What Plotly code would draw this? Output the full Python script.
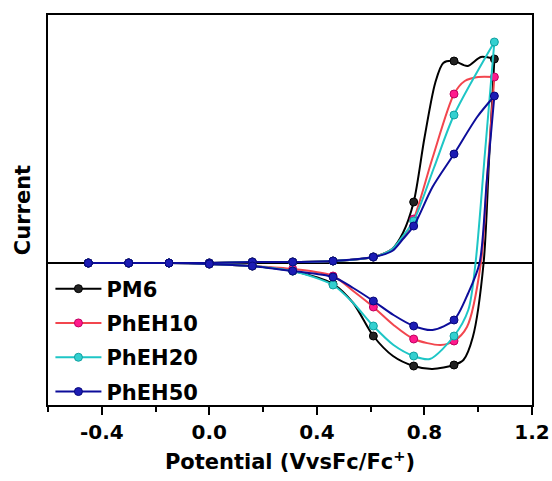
import plotly.graph_objects as go

# ---------------- data (arbitrary current units, potential in V vs Fc/Fc+) ----------------
SERIES = ["PM6", "PhEH10", "PhEH20", "PhEH50"]

# marker potentials
X_FWD_MARK = [-0.45, -0.30, -0.15, 0.00, 0.16, 0.31, 0.46, 0.61, 0.76, 0.91, 1.06]
X_REV_MARK = [0.91, 0.76, 0.61, 0.46, 0.31, 0.16, 0.00, -0.15, -0.30, -0.45]

# currents at the marker potentials (forward / reverse scan)
PM6_FWD = [0, 0, 0, 0, 1, 1, 2, 6, 61, 202, 204]
PM6_REV = [-102, -103, -73, -21, -8, -3, -1, 0, 0, 0]
PHEH10_FWD = [0, 0, 0, 0, 1, 1, 2, 6, 44, 169, 186]
PHEH10_REV = [-78, -76, -44, -13, -6, -3, -1, 0, 0, 0]
PHEH20_FWD = [0, 0, 0, 0, 1, 1, 2, 6, 42, 148, 221]
PHEH20_REV = [-73, -93, -63, -22, -8, -3, -1, 0, 0, 0]
PHEH50_FWD = [0, 0, 0, 0, 1, 1, 2, 6, 37, 109, 167]
PHEH50_REV = [-57, -63, -38, -14, -8, -3, -1, 0, 0, 0]

# additional recorded points between markers (potential, current)
PM6_FWD_X_EXTRA = [0.68, 0.72, 0.80, 0.84, 0.87, 0.96, 1.01]
PM6_FWD_Y_EXTRA = [14, 30, 125, 180, 200, 197, 206]
PM6_REV_X_EXTRA = [1.04, 1.02, 0.98, 0.945, 0.83, 0.683, 0.535]
PM6_REV_Y_EXTRA = [102, 0, -74, -97, -106, -93, -40]

PHEH10_FWD_X_EXTRA = [0.68, 0.72, 0.83, 0.95, 1.00]
PHEH10_FWD_Y_EXTRA = [14, 25, 105, 182, 186]
PHEH10_REV_X_EXTRA = [1.035, 1.01, 0.958, 0.86, 0.685, 0.535]
PHEH10_REV_Y_EXTRA = [93, 0, -64, -82, -62, -28]

PHEH20_FWD_X_EXTRA = [0.68, 0.72, 0.835]
PHEH20_FWD_Y_EXTRA = [14, 27, 95]
PHEH20_REV_X_EXTRA = [1.025, 0.99, 0.963, 0.82, 0.685, 0.535]
PHEH20_REV_Y_EXTRA = [110, 0, -47, -96, -82, -40]

PHEH50_FWD_X_EXTRA = [0.68, 0.72, 0.83, 0.996]
PHEH50_FWD_Y_EXTRA = [12, 24, 76, 146]
PHEH50_REV_X_EXTRA = [1.032, 1.005, 0.963, 0.83, 0.685, 0.535]
PHEH50_REV_Y_EXTRA = [83, 0, -30, -67, -52, -25]

X_TICK_VALS = [-0.4, 0.0, 0.4, 0.8, 1.2]
X_TICK_TEXT = ["-0.4", "0.0", "0.4", "0.8", "1.2"]
X_MINOR_VALS = [-0.6, -0.2, 0.2, 0.6, 1.0]

LINE_COLORS = ["#000000", "#f2464e", "#1ec6c6", "#0d0d9a"]
MARK_COLORS = ["#222222", "#ff1a8c", "#33d0d0", "#1c1cb4"]
MARK_EDGES = ["#000000", "#c00060", "#10a0a0", "#08087a"]

FWD = [PM6_FWD, PHEH10_FWD, PHEH20_FWD, PHEH50_FWD]
REV = [PM6_REV, PHEH10_REV, PHEH20_REV, PHEH50_REV]
FWD_XE = [PM6_FWD_X_EXTRA, PHEH10_FWD_X_EXTRA, PHEH20_FWD_X_EXTRA, PHEH50_FWD_X_EXTRA]
FWD_YE = [PM6_FWD_Y_EXTRA, PHEH10_FWD_Y_EXTRA, PHEH20_FWD_Y_EXTRA, PHEH50_FWD_Y_EXTRA]
REV_XE = [PM6_REV_X_EXTRA, PHEH10_REV_X_EXTRA, PHEH20_REV_X_EXTRA, PHEH50_REV_X_EXTRA]
REV_YE = [PM6_REV_Y_EXTRA, PHEH10_REV_Y_EXTRA, PHEH20_REV_Y_EXTRA, PHEH50_REV_Y_EXTRA]

FONT = "DejaVu Sans"

fig = go.Figure()

for i, name in enumerate(SERIES):
    # forward branch (ascending potential)
    fpts = sorted(list(zip(X_FWD_MARK, FWD[i])) + list(zip(FWD_XE[i], FWD_YE[i])))
    # reverse branch (descending potential), starting at the vertex
    rpts = sorted(list(zip(X_REV_MARK, REV[i])) + list(zip(REV_XE[i], REV_YE[i])), reverse=True)
    rpts = [(X_FWD_MARK[-1], FWD[i][-1])] + rpts
    for pts in (fpts, rpts):
        fig.add_trace(go.Scatter(
            x=[p[0] for p in pts], y=[p[1] for p in pts],
            mode="lines", line=dict(color=LINE_COLORS[i], width=2, shape="spline", smoothing=0.8),
            showlegend=False, hoverinfo="skip"))
    fig.add_trace(go.Scatter(
        x=X_FWD_MARK + X_REV_MARK, y=FWD[i] + REV[i], mode="markers",
        marker=dict(size=8, color=MARK_COLORS[i], line=dict(color=MARK_EDGES[i], width=1)),
        showlegend=False))
    fig.add_trace(go.Scatter(
        x=[None], y=[None], mode="lines+markers", name=name, legendgroup=name,
        line=dict(color=LINE_COLORS[i], width=2),
        marker=dict(size=8, color=MARK_COLORS[i], line=dict(color=MARK_EDGES[i], width=1))))

fig.update_layout(
    width=552, height=481,
    margin=dict(l=48, r=20, t=15, b=76),
    paper_bgcolor="white", plot_bgcolor="white",
    font=dict(family=FONT, size=21, color="black"),
    showlegend=True,
    legend=dict(x=0.005, y=0.35, xanchor="left", yanchor="top",
                bgcolor="rgba(0,0,0,0)", traceorder="grouped", tracegroupgap=4,
                itemwidth=46,
                font=dict(family=FONT, size=21, color="black", weight="bold")),
)
fig.update_xaxes(
    range=[-0.6, 1.2], tickvals=X_TICK_VALS, ticktext=X_TICK_TEXT, automargin=False,
    ticks="outside", ticklen=8, tickwidth=1.5, tickcolor="black",
    minor=dict(tickvals=X_MINOR_VALS, ticks="outside", ticklen=5, tickwidth=1.5, tickcolor="black"),
    tickfont=dict(family=FONT, size=20, color="black", weight="bold"),
    showline=True, linecolor="black", linewidth=1.5, mirror=True,
    showgrid=False, zeroline=False,
    title=dict(text="Potential (VvsFc/Fc<sup>+</sup>)", standoff=12,
               font=dict(family=FONT, size=21, color="black", weight="bold")),
)
fig.update_yaxes(
    range=[-142, 248], showticklabels=False, ticks="", automargin=False,
    showline=True, linecolor="black", linewidth=1.5, mirror=True,
    showgrid=False, zeroline=True, zerolinecolor="black", zerolinewidth=1.5,
    title=dict(text="Current", standoff=10,
               font=dict(family=FONT, size=21, color="black", weight="bold")),
)

fig.write_html("out.html")
